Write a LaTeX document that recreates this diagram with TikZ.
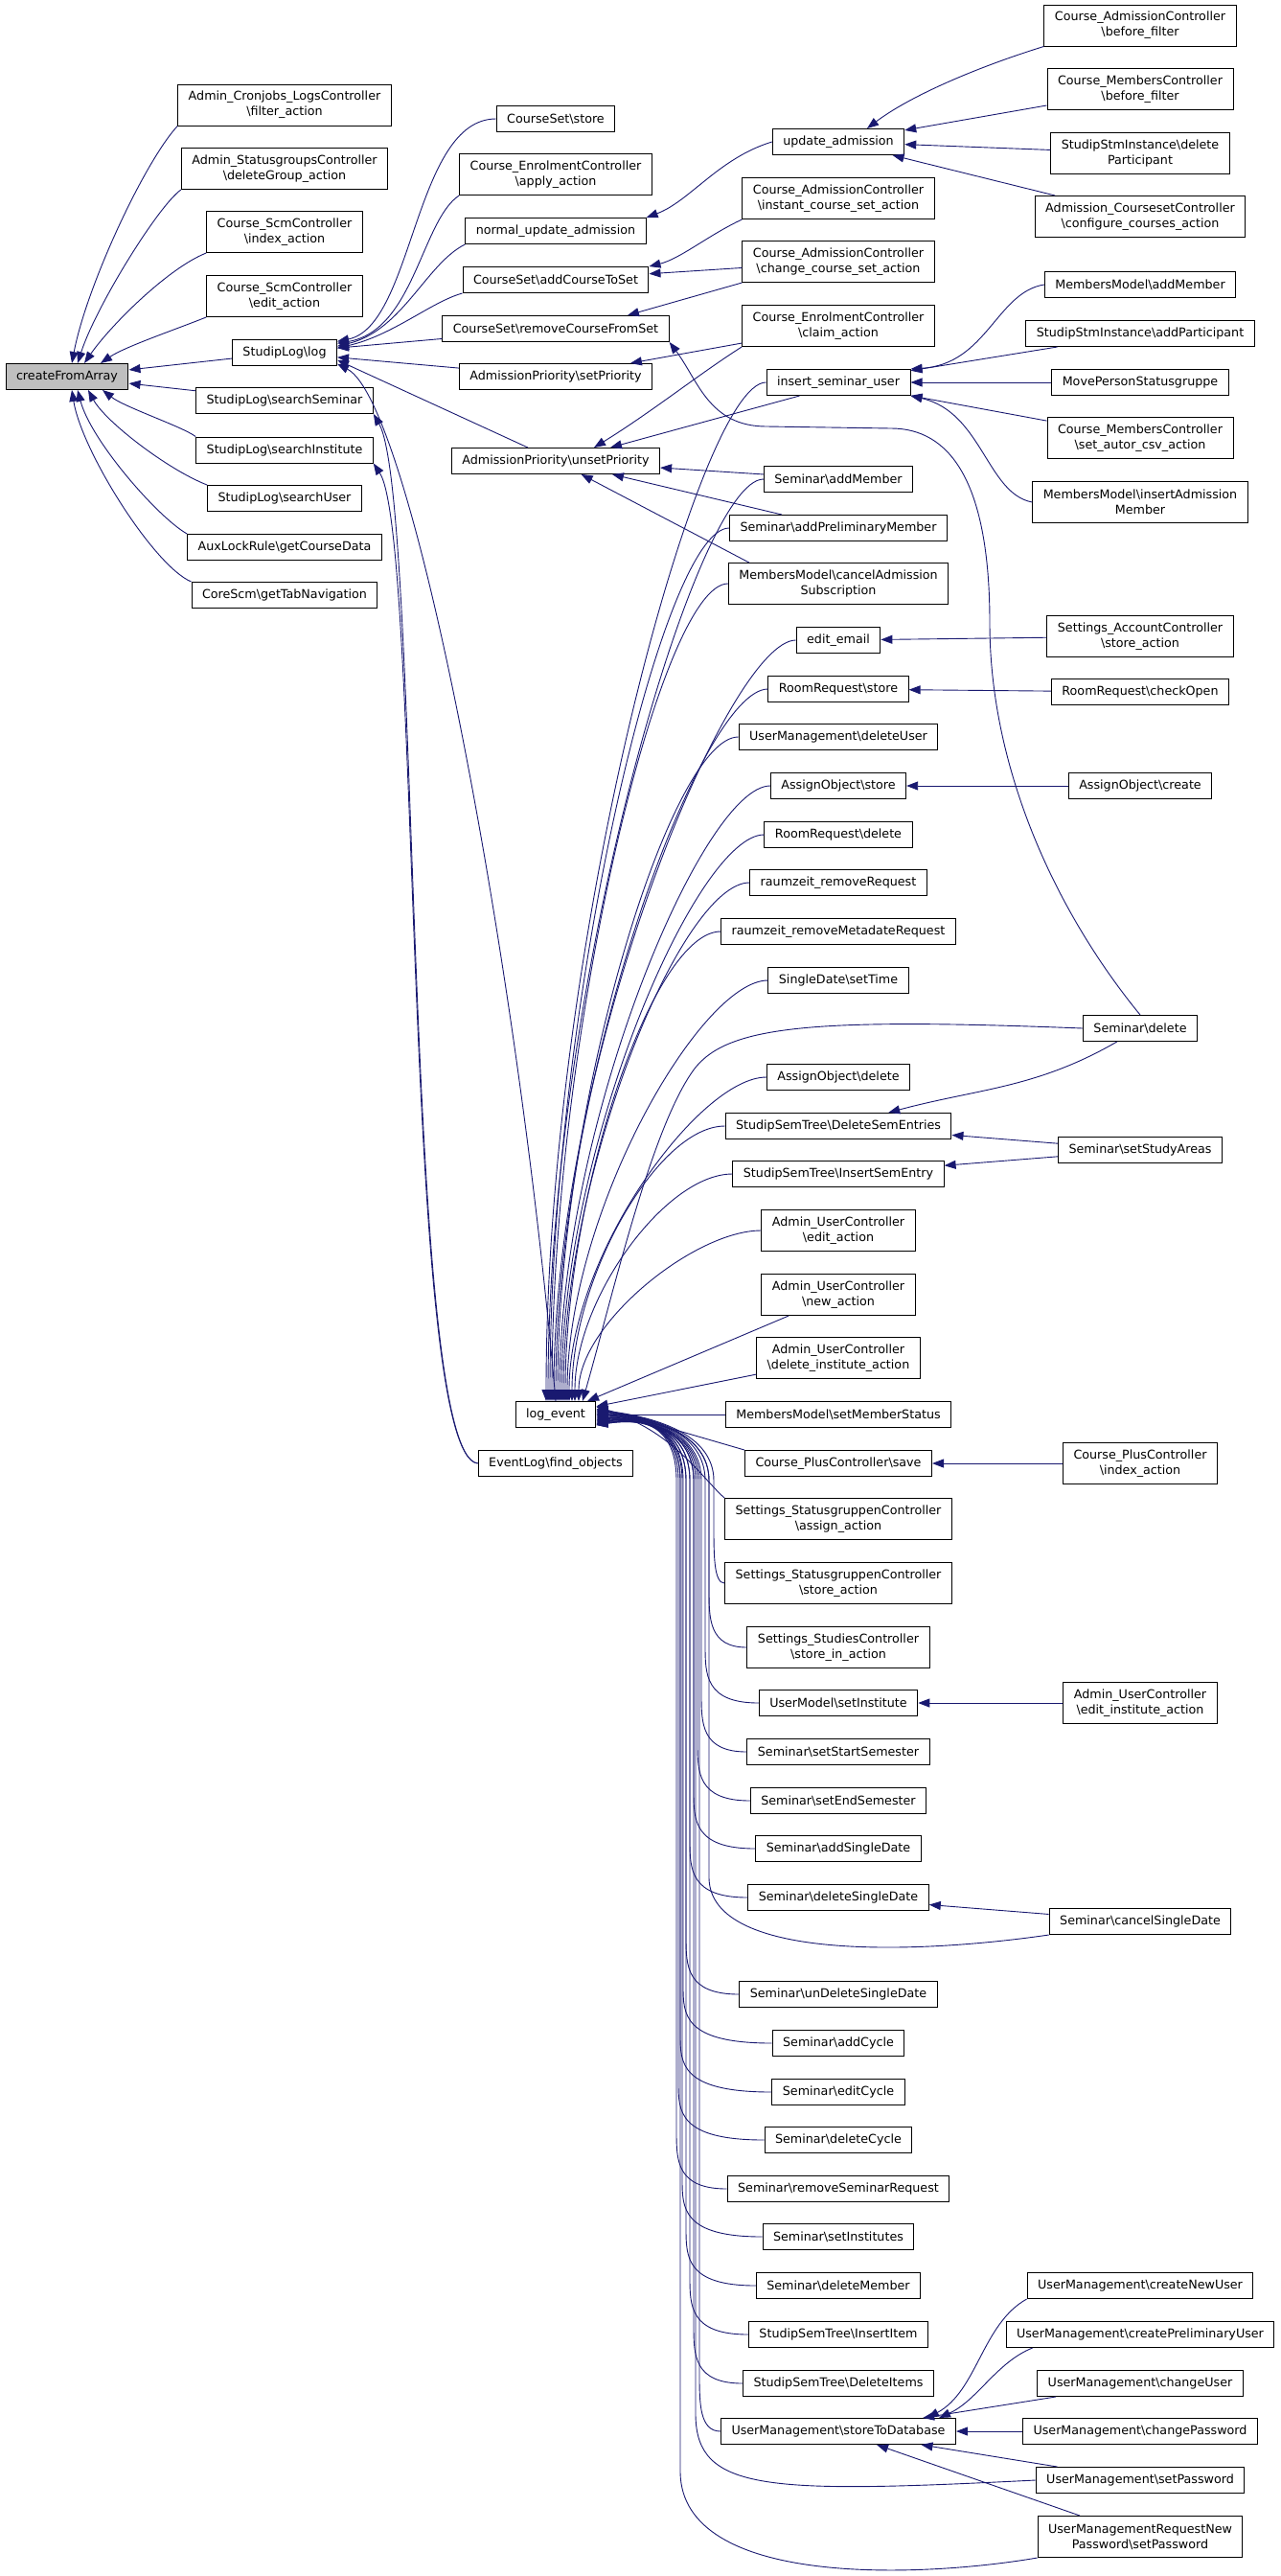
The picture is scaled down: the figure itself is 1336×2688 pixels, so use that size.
\documentclass[tikz,border=0pt]{standalone}
\usepackage{fontspec}
\setmainfont{DejaVu Sans}
\usepackage{tikz}
\usetikzlibrary{arrows.meta,calc}

\definecolor{edgeblue}{HTML}{191970}
\newcommand{\nsb}{\textbackslash}
\newcommand{\fnfont}{\fontsize{12.7}{16}\selectfont}

\tikzset{
  fn/.style={draw=black, line width=1pt, fill=white, font=\fnfont, align=center,
    inner xsep=11pt, inner ysep=0pt, minimum height=27pt},
  fntwo/.style={fn, minimum height=43pt},
  rootfn/.style={fn, fill=black!25},
  callline/.style={draw=edgeblue, line width=0.9pt, -{Triangle[length=12pt,width=9pt]}}
}

\begin{document}
\begin{tikzpicture}[x=1pt,y=1pt]
  \useasboundingbox (0,0) rectangle (1336,-2688);

  % Root
  \node[rootfn] (cfa) at (70,-393) {createFromArray};

  % Column 2
  \node[fntwo] (acl) at (297,-109.5) {Admin\_Cronjobs\_LogsController\\\nsb filter\_action};
  \node[fntwo] (asg) at (297,-176) {Admin\_StatusgroupsController\\\nsb deleteGroup\_action};
  \node[fntwo] (csi) at (297,-242) {Course\_ScmController\\\nsb index\_action};
  \node[fntwo] (cse) at (297,-309) {Course\_ScmController\\\nsb edit\_action};
  \node[fn] (slog) at (297,-368) {StudipLog\nsb log};
  \node[fn] (ssem) at (297,-418) {StudipLog\nsb searchSeminar};
  \node[fn] (sinst) at (297,-469.5) {StudipLog\nsb searchInstitute};
  \node[fn] (suser) at (297,-520) {StudipLog\nsb searchUser};
  \node[fn] (aux) at (297,-571) {AuxLockRule\nsb getCourseData};
  \node[fn] (core) at (297,-621) {CoreScm\nsb getTabNavigation};

  % Column 3
  \node[fn] (css) at (580,-124) {CourseSet\nsb store};
  \node[fntwo] (ceapply) at (580,-182) {Course\_EnrolmentController\\\nsb apply\_action};
  \node[fn] (nua) at (580,-241) {normal\_update\_admission};
  \node[fn] (acts) at (580,-292) {CourseSet\nsb addCourseToSet};
  \node[fn] (rcfs) at (580,-343) {CourseSet\nsb removeCourseFromSet};
  \node[fn] (setp) at (580,-393) {AdmissionPriority\nsb setPriority};
  \node[fn] (unset) at (580,-481) {AdmissionPriority\nsb unsetPriority};
  \node[fn] (logev) at (580,-1476) {log\_event};
  \node[fn] (find) at (580,-1527) {EventLog\nsb find\_objects};

  % Column 4
  \node[fn] (ua) at (875,-148) {update\_admission};
  \node[fntwo] (icsa) at (875,-207) {Course\_AdmissionController\\\nsb instant\_course\_set\_action};
  \node[fntwo] (ccsa) at (875,-273) {Course\_AdmissionController\\\nsb change\_course\_set\_action};
  \node[fntwo] (claim) at (875,-340) {Course\_EnrolmentController\\\nsb claim\_action};
  \node[fn] (isu) at (875,-399) {insert\_seminar\_user};
  \node[fn] (sam) at (875,-500) {Seminar\nsb addMember};
  \node[fn] (sapm) at (875,-551) {Seminar\nsb addPreliminaryMember};
  \node[fntwo] (cams) at (875,-609) {MembersModel\nsb cancelAdmission\\Subscription};
  \node[fn] (ee) at (875,-668) {edit\_email};
  \node[fn] (rrs) at (875,-719) {RoomRequest\nsb store};
  \node[fn] (umdu) at (875,-769) {UserManagement\nsb deleteUser};
  \node[fn] (aos) at (875,-820) {AssignObject\nsb store};
  \node[fn] (rrd) at (875,-871) {RoomRequest\nsb delete};
  \node[fn] (rzrr) at (875,-921) {raumzeit\_removeRequest};
  \node[fn] (rzrm) at (875,-972) {raumzeit\_removeMetadateRequest};
  \node[fn] (sdst) at (875,-1023) {SingleDate\nsb setTime};
  \node[fn] (aod) at (875,-1124) {AssignObject\nsb delete};
  \node[fn] (dse) at (875,-1175) {StudipSemTree\nsb DeleteSemEntries};
  \node[fn] (ise) at (875,-1225) {StudipSemTree\nsb InsertSemEntry};
  \node[fntwo] (auce) at (875,-1284) {Admin\_UserController\\\nsb edit\_action};
  \node[fntwo] (aucn) at (875,-1351) {Admin\_UserController\\\nsb new\_action};
  \node[fntwo] (aucdi) at (875,-1417) {Admin\_UserController\\\nsb delete\_institute\_action};
  \node[fn] (msms) at (875,-1476) {MembersModel\nsb setMemberStatus};
  \node[fn] (cpcs) at (875,-1527) {Course\_PlusController\nsb save};
  \node[fntwo] (ssga) at (875,-1585) {Settings\_StatusgruppenController\\\nsb assign\_action};
  \node[fntwo] (ssgs) at (875,-1652) {Settings\_StatusgruppenController\\\nsb store\_action};
  \node[fntwo] (sscs) at (875,-1719) {Settings\_StudiesController\\\nsb store\_in\_action};
  \node[fn] (umsi) at (875,-1777) {UserModel\nsb setInstitute};
  \node[fn] (ssts) at (875,-1828) {Seminar\nsb setStartSemester};
  \node[fn] (sses) at (875,-1879) {Seminar\nsb setEndSemester};
  \node[fn] (sasd) at (875,-1929) {Seminar\nsb addSingleDate};
  \node[fn] (sdsd) at (875,-1980) {Seminar\nsb deleteSingleDate};
  \node[fn] (susd) at (875,-2081) {Seminar\nsb unDeleteSingleDate};
  \node[fn] (sac) at (875,-2132) {Seminar\nsb addCycle};
  \node[fn] (sec) at (875,-2183) {Seminar\nsb editCycle};
  \node[fn] (sdc) at (875,-2233) {Seminar\nsb deleteCycle};
  \node[fn] (srsr) at (875,-2284) {Seminar\nsb removeSeminarRequest};
  \node[fn] (ssi) at (875,-2334) {Seminar\nsb setInstitutes};
  \node[fn] (sdm) at (875,-2385) {Seminar\nsb deleteMember};
  \node[fn] (ssii) at (875,-2436) {StudipSemTree\nsb InsertItem};
  \node[fn] (ssdi) at (875,-2487) {StudipSemTree\nsb DeleteItems};
  \node[fn] (umstd) at (875,-2537) {UserManagement\nsb storeToDatabase};

  % Column 5
  \node[fntwo] (cacbf) at (1190,-26.5) {Course\_AdmissionController\\\nsb before\_filter};
  \node[fntwo] (cmcbf) at (1190,-93) {Course\_MembersController\\\nsb before\_filter};
  \node[fntwo] (ssidp) at (1190,-160) {StudipStmInstance\nsb delete\\Participant};
  \node[fntwo] (accca) at (1190,-226) {Admission\_CoursesetController\\\nsb configure\_courses\_action};
  \node[fn] (mmam) at (1190,-297) {MembersModel\nsb addMember};
  \node[fn] (ssiap) at (1190,-348) {StudipStmInstance\nsb addParticipant};
  \node[fn] (mps) at (1190,-399) {MovePersonStatusgruppe};
  \node[fntwo] (cmcsa) at (1190,-457) {Course\_MembersController\\\nsb set\_autor\_csv\_action};
  \node[fntwo] (mmiam) at (1190,-524) {MembersModel\nsb insertAdmission\\Member};
  \node[fntwo] (sacsa) at (1190,-664) {Settings\_AccountController\\\nsb store\_action};
  \node[fn] (rrco) at (1190,-722) {RoomRequest\nsb checkOpen};
  \node[fn] (aoc) at (1190,-820) {AssignObject\nsb create};
  \node[fn] (sdel) at (1190,-1073) {Seminar\nsb delete};
  \node[fn] (ssa) at (1190,-1200) {Seminar\nsb setStudyAreas};
  \node[fntwo] (cpci) at (1190,-1527) {Course\_PlusController\\\nsb index\_action};
  \node[fntwo] (aucei) at (1190,-1777) {Admin\_UserController\\\nsb edit\_institute\_action};
  \node[fn] (scsd) at (1190,-2005) {Seminar\nsb cancelSingleDate};
  \node[fn] (umcnu) at (1190,-2385) {UserManagement\nsb createNewUser};
  \node[fn] (umcpu) at (1190,-2436) {UserManagement\nsb createPreliminaryUser};
  \node[fn] (umcu) at (1190,-2487) {UserManagement\nsb changeUser};
  \node[fn] (umcp) at (1190,-2537) {UserManagement\nsb changePassword};
  \node[fn] (umsp) at (1190,-2588) {UserManagement\nsb setPassword};
  \node[fntwo] (umrnp) at (1190,-2647) {UserManagementRequestNew\\Password\nsb setPassword};

  % Callers of createFromArray
  \draw[callline] (acl.south west) .. controls (150,-170) and (90,-300) .. ([xshift=5]cfa.north);
  \draw[callline] (asg.south west) .. controls (165,-215) and (100,-320) .. ([xshift=11]cfa.north);
  \draw[callline] (csi.south west) .. controls (175,-280) and (115,-340) .. ([xshift=18]cfa.north);
  \draw[callline] (cse.south west) .. controls (180,-345) and (130,-362) .. ([xshift=35]cfa.north);
  \draw[callline] (slog) -- (cfa);
  \draw[callline] (ssem) -- (cfa);
  \draw[callline] (sinst.north west) .. controls (190,-445) and (130,-425) .. ([xshift=37]cfa.south);
  \draw[callline] (suser.north west) .. controls (175,-490) and (110,-440) .. ([xshift=22]cfa.south);
  \draw[callline] (aux.north west) .. controls (165,-540) and (95,-460) .. ([xshift=11]cfa.south);
  \draw[callline] (core.north west) .. controls (160,-590) and (85,-470) .. ([xshift=5]cfa.south);

  % Callers of StudipLog\log
  \draw[callline] (css.west) .. controls (432,-124) and (432,-340) .. (slog.12);
  \draw[callline] (ceapply.south west) .. controls (440,-230) and (432,-345) .. (slog.10);
  \draw[callline] (nua.south west) .. controls (445,-275) and (420,-345) .. (slog.7);
  \draw[callline] (acts.south west) .. controls (450,-315) and (410,-350) .. (slog.5);
  \draw[callline] (rcfs) -- (slog);
  \draw[callline] (setp) -- (slog);
  \draw[callline] ([xshift=80]unset.north west) -- (slog.-8);
  \draw[callline] (logev.north) .. controls (540,-1000) and (430,-420) .. (slog.-12);

  % EventLog\find_objects
  \draw[callline] (find.west) .. controls (420,-1520) and (440,-520) .. (ssem.south east);
  \draw[callline] (find.west) .. controls (420,-1520) and (440,-560) .. (sinst.south east);

  % Column 4 into column 3
  \draw[callline] (ua.west) .. controls (750,-165) and (720,-210) .. (nua.north east);
  \draw[callline] (icsa.south west) .. controls (740,-245) and (710,-270) .. (acts.north east);
  \draw[callline] (ccsa) -- (acts);
  \draw[callline] (ccsa.south west) -- ([xshift=75]rcfs.north);
  \draw[callline] (claim) -- (setp);
  \draw[callline] (claim.south west) .. controls (730,-390) and (680,-430) .. ([xshift=40]unset.north);
  \draw[callline] ([xshift=35]isu.south west) -- ([xshift=57]unset.north);
  \draw[callline] (sam) -- (unset);
  \draw[callline] (sapm) -- (unset);
  \draw[callline] ([xshift=22]cams.north west) -- (unset);

  % Callers of update_admission and insert_seminar_user
  \draw[callline] (cacbf.south west) .. controls (1020,-70) and (950,-100) .. ([xshift=30]ua.north);
  \draw[callline] (cmcbf) -- (ua);
  \draw[callline] (ssidp) -- (ua);
  \draw[callline] (accca) -- (ua);
  \draw[callline] (mmam.west) .. controls (1040,-305) and (1030,-380) .. (isu.north east);
  \draw[callline] (ssiap) -- (isu);
  \draw[callline] (mps) -- (isu);
  \draw[callline] (cmcsa) -- (isu);
  \draw[callline] (mmiam.west) .. controls (1030,-515) and (1025,-430) .. (isu.south east);

  % Single callers
  \draw[callline] (sacsa) -- (ee);
  \draw[callline] (rrco) -- (rrs);
  \draw[callline] (aoc) -- (aos);
  \draw[callline] (sdel) to[out=-150,in=15] (dse);
  \draw[callline] (ssa) -- (dse);
  \draw[callline] (ssa) -- (ise);
  \draw[callline] (cpci) -- (cpcs);
  \draw[callline] (aucei) -- (umsi);
  \draw[callline] (scsd) -- (sdsd);

  % Callers of UserManagement\storeToDatabase
  \draw[callline] (umcnu.south west) .. controls (1025,-2425) and (1020,-2495) .. ([xshift=-30]umstd.north east);
  \draw[callline] ([xshift=28]umcpu.south west) .. controls (1040,-2465) and (1020,-2505) .. ([xshift=-18]umstd.north east);
  \draw[callline] (umcu) -- (umstd);
  \draw[callline] (umcp) -- (umstd);
  \draw[callline] (umsp) -- (umstd);
  \draw[callline] (umrnp) -- (umstd);

  % Seminar\delete
  \draw[callline] (sdel.north) .. controls +(-90,110) and +(0,-150) .. (1033,-650)
    .. controls +(0,150) and +(60,0) .. (930,-447) -- (800,-445)
    .. controls +(-60,0) and +(30,-40) .. (rcfs.south east);
  \draw[callline] (sdel.west) .. controls (850,-1062) and (760,-1070) .. (725,-1115)
    .. controls (680,-1175) and (640,-1350) .. ([xshift=28]logev.north);

  % Far callers of log_event
  \draw[callline] (scsd.south west) .. controls (950,-2040) and (742,-2045) .. (740,-1960)
    -- (740,-1545) .. controls (740,-1495) and (680,-1478) .. ([yshift=-6]logev.east);
  \draw[callline] (umsp.west) .. controls (800,-2602) and (727,-2600) .. (726,-2520)
    -- (726,-1545) .. controls (726,-1495) and (680,-1478) .. ([yshift=-10]logev.east);
  \draw[callline] (umrnp.south west) .. controls (960,-2690) and (712,-2700) .. (710,-2580)
    -- (710,-1545) .. controls (710,-1495) and (680,-1478) .. ([yshift=-11]logev.east);

  % Callers of log_event above it
  \foreach \n/\s in {isu/-10,sam/-8,sapm/-6,cams/-4,ee/-2,rrs/0,umdu/2,aos/4,rrd/6,rzrr/8,
      rzrm/10,sdst/12,aod/14,dse/17,ise/20,auce/24}
    \draw[callline] (\n.west) .. controls +(-70,0) and
      ($(logev.north)!0.45!(logev.north |- \n.west) + (\s,0)$) .. ([xshift=\s]logev.north);
  \draw[callline] (aucn) -- (logev);
  \draw[callline] (aucdi) -- (logev);
  \draw[callline] (msms) -- (logev);

  % Callers of log_event below it
  \draw[callline] (cpcs.north west) -- ([yshift=8]logev.east);
  \draw[callline] (ssga.north west) .. controls (735,-1545) and (700,-1490) .. ([yshift=6]logev.east);
  \foreach \n/\y/\v/\s in {ssgs/1652/745/5,sscs/1719/740/4,umsi/1777/736/3,ssts/1828/732/2,
      sses/1879/728/1,sasd/1929/724/0,sdsd/1980/720/-1,susd/2081/716/-2,sac/2132/713/-3,
      sec/2183/710/-4,sdc/2233/708/-5,srsr/2284/706/-6,ssi/2334/712/-7,sdm/2385/716/-8,
      ssii/2436/720/-9,ssdi/2487/724/-10,umstd/2537/730/-11}
    \draw[callline] (\n.west) .. controls (\v,-\y) and (\v,-\y+30) .. (\v,-\y+60)
      -- (\v,-1545) .. controls (\v,-1495) and (680,-1478) .. ([yshift=\s]logev.east);
\end{tikzpicture}
\end{document}
